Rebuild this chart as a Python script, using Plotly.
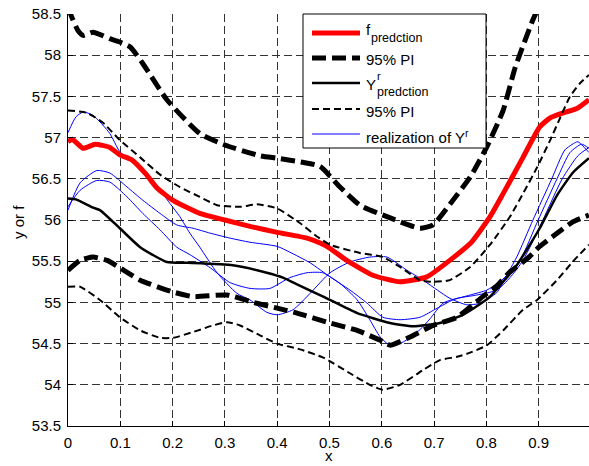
import plotly.graph_objects as go

# ---------------- data ----------------
x_f = [0, 0.008, 0.029, 0.052, 0.08, 0.099, 0.122, 0.15, 0.17, 0.2, 0.252, 0.3, 0.35, 0.4,
       0.457, 0.482, 0.5, 0.533, 0.583, 0.635, 0.686, 0.736, 0.77, 0.807, 0.832, 0.87,
       0.902, 0.922, 0.947, 0.975, 0.996]
y_f = [56.95, 56.98, 56.87, 56.92, 56.88, 56.79, 56.73, 56.55, 56.39, 56.24, 56.08, 56.0, 55.92, 55.85,
       55.78, 55.72, 55.66, 55.51, 55.33, 55.25, 55.31, 55.54, 55.72, 56.04, 56.32, 56.76,
       57.13, 57.24, 57.3, 57.36, 57.46]

x_f_up = [0, 0.008, 0.019, 0.029, 0.048, 0.08, 0.099, 0.119, 0.143, 0.189, 0.252, 0.3, 0.367,
          0.4, 0.449, 0.482, 0.52, 0.558, 0.61, 0.673, 0.698, 0.736, 0.769, 0.801, 0.832,
          0.855, 0.889, 0.912]
y_f_up = [58.58, 58.45, 58.3, 58.24, 58.28, 58.2, 58.16, 58.1, 57.9, 57.46, 57.05, 56.91, 56.78,
          56.75, 56.7, 56.65, 56.4, 56.18, 56.04, 55.9, 55.94, 56.24, 56.52, 56.89, 57.33,
          57.85, 58.43, 58.75]

x_f_lo = [0, 0.023, 0.048, 0.075, 0.099, 0.138, 0.199, 0.239, 0.304, 0.354, 0.4, 0.438, 0.501,
          0.553, 0.597, 0.616, 0.654, 0.698, 0.744, 0.793, 0.82, 0.845, 0.878, 0.902, 0.935,
          0.966, 0.996]
y_f_lo = [55.39, 55.51, 55.55, 55.51, 55.42, 55.27, 55.13, 55.07, 55.09, 55.0, 54.93, 54.87, 54.75,
          54.66, 54.54, 54.48, 54.58, 54.72, 54.82, 55.07, 55.2, 55.37, 55.53, 55.68, 55.84,
          55.98, 56.06]

x_y = [0, 0.015, 0.048, 0.061, 0.099, 0.138, 0.189, 0.228, 0.315, 0.38, 0.411, 0.444, 0.488,
       0.553, 0.616, 0.66, 0.711, 0.755, 0.788, 0.807, 0.832, 0.858, 0.883, 0.902, 0.935,
       0.966, 0.996]
y_y = [56.26, 56.25, 56.15, 56.12, 55.9, 55.67, 55.49, 55.48, 55.45, 55.36, 55.3, 55.2, 55.07,
       54.87, 54.75, 54.71, 54.75, 54.85, 54.98, 55.07, 55.25, 55.45, 55.7, 55.9, 56.3,
       56.58, 56.75]

x_y_up = [0, 0.036, 0.067, 0.099, 0.138, 0.176, 0.214, 0.252, 0.285, 0.329, 0.361, 0.4, 0.444,
          0.476, 0.501, 0.558, 0.602, 0.635, 0.673, 0.698, 0.73, 0.769, 0.807, 0.845, 0.87,
          0.897, 0.922, 0.941, 0.96, 0.979, 0.996]
y_y_up = [57.33, 57.3, 57.18, 56.97, 56.76, 56.55, 56.4, 56.28, 56.18, 56.16, 56.19, 56.14, 55.96,
          55.8, 55.7, 55.6, 55.55, 55.43, 55.27, 55.25, 55.27, 55.43, 55.7, 56.04, 56.32,
          56.64, 56.97, 57.24, 57.5, 57.66, 57.76]

x_y_lo = [0, 0.023, 0.061, 0.099, 0.138, 0.176, 0.201, 0.239, 0.277, 0.304, 0.329, 0.367, 0.4,
          0.444, 0.488, 0.539, 0.577, 0.602, 0.635, 0.679, 0.711, 0.744, 0.769, 0.801, 0.832,
          0.87, 0.897, 0.935, 0.966, 0.996]
y_y_lo = [55.19, 55.19, 55.03, 54.82, 54.66, 54.57, 54.57, 54.64, 54.72, 54.76, 54.72, 54.6, 54.5,
          54.43, 54.33, 54.14, 54.0, 53.94, 54.0, 54.18, 54.3, 54.34, 54.39, 54.48, 54.66,
          54.91, 55.03, 55.27, 55.5, 55.7]

x_r1 = [0, 0.015, 0.029, 0.048, 0.08, 0.099, 0.128, 0.157, 0.195, 0.214, 0.233, 0.252, 0.285,
        0.323, 0.348, 0.38, 0.4, 0.43, 0.463, 0.501, 0.539, 0.577, 0.61, 0.648, 0.679, 0.706,
        0.73, 0.763, 0.788, 0.82, 0.836, 0.858, 0.889, 0.925, 0.95, 0.97, 0.975, 0.996]
y_r1 = [57.06, 57.25, 57.31, 57.27, 57.05, 56.83, 56.68, 56.52, 56.2, 56.04, 55.84, 55.67, 55.36,
        55.11, 55.03, 54.88, 54.85, 54.91, 55.11, 55.36, 55.49, 55.55, 55.55, 55.39, 55.27, 55.15,
        55.05, 54.97, 54.99, 55.12, 55.3, 55.55, 56.0, 56.5, 56.85, 56.94, 56.95, 56.82]

x_r2 = [0, 0.023, 0.055, 0.08, 0.113, 0.143, 0.176, 0.208, 0.239, 0.272, 0.31, 0.348, 0.4,
        0.424, 0.463, 0.501, 0.539, 0.572, 0.602, 0.635, 0.673, 0.706, 0.736, 0.769, 0.801,
        0.826, 0.864, 0.899, 0.935, 0.96, 0.982, 0.996]
y_r2 = [56.12, 56.45, 56.6, 56.57, 56.4, 56.24, 56.08, 55.94, 55.9, 55.84, 55.78, 55.73, 55.68,
        55.61, 55.48, 55.31, 55.15, 54.99, 54.82, 54.79, 54.82, 54.93, 55.03, 55.09, 55.15,
        55.25, 55.51, 56.0, 56.5, 56.82, 56.92, 56.87]

x_r3 = [0, 0.023, 0.055, 0.08, 0.113, 0.143, 0.176, 0.208, 0.233, 0.272, 0.31, 0.348, 0.386,
        0.424, 0.457, 0.487, 0.52, 0.553, 0.577, 0.597, 0.616, 0.641, 0.673, 0.692, 0.717,
        0.744, 0.782, 0.82, 0.845, 0.87, 0.908, 0.945, 0.975, 0.996]
y_r3 = [56.16, 56.36, 56.48, 56.46, 56.28, 56.08, 55.88, 55.67, 55.58, 55.42, 55.24, 55.17, 55.17,
        55.3, 55.36, 55.36, 55.23, 55.03, 54.79, 54.58, 54.48, 54.52, 54.67, 54.8, 54.99,
        55.05, 55.09, 55.15, 55.3, 55.51, 56.0, 56.5, 56.78, 56.88]

x_ticks = [0, 0.1, 0.2, 0.3, 0.4, 0.5, 0.6, 0.7, 0.8, 0.9, 1.0]
y_ticks = [53.5, 54, 54.5, 55, 55.5, 56, 56.5, 57, 57.5, 58, 58.5]

# ---------------- styles ----------------
FONT = "Liberation Sans, Arial, Helvetica, sans-serif"
RED = dict(color="#FF0000", width=5)
THICK = dict(color="black", width=5, dash="14px,6px")
SOLID = dict(color="black", width=2.5)
THIN = dict(color="black", width=2, dash="7px,4px")
BLUE = dict(color="#0000FF", width=1)

W, H = 589, 466
ML, MR, MT, MB = 68, 0, 14, 40
PW, PH = W - ML - MR, H - MT - MB


def px(xp):
    return (xp - ML) / PW


def py(yp):
    return (H - MB - yp) / PH


fig = go.Figure()

for xx, yy in [(x_r1, y_r1), (x_r2, y_r2), (x_r3, y_r3)]:
    fig.add_trace(go.Scatter(x=xx, y=yy, mode="lines", showlegend=False, hoverinfo="skip",
                             line=dict(**BLUE, shape="spline", smoothing=0.6)))
fig.add_trace(go.Scatter(x=x_f, y=y_f, mode="lines", showlegend=False, hoverinfo="skip",
                         line=dict(**RED, shape="spline", smoothing=0.5)))
for xx, yy in [(x_f_up, y_f_up), (x_f_lo, y_f_lo)]:
    fig.add_trace(go.Scatter(x=xx, y=yy, mode="lines", showlegend=False, hoverinfo="skip",
                             line=dict(**THICK, shape="spline", smoothing=0.5)))
fig.add_trace(go.Scatter(x=x_y, y=y_y, mode="lines", showlegend=False, hoverinfo="skip",
                         line=dict(**SOLID, shape="spline", smoothing=0.5)))
for xx, yy in [(x_y_up, y_y_up), (x_y_lo, y_y_lo)]:
    fig.add_trace(go.Scatter(x=xx, y=yy, mode="lines", showlegend=False, hoverinfo="skip",
                             line=dict(**THIN, shape="spline", smoothing=0.5)))

# ---------------- legend (drawn by hand to match the MATLAB look) ----------------
shapes = [dict(type="rect", xref="paper", yref="paper", x0=px(303), x1=px(486),
               y0=py(148), y1=py(14), line=dict(color="black", width=1),
               fillcolor="white", layer="above")]
sample_y = [33, 58, 83, 109, 134]
sample_styles = [RED, THICK, SOLID, THIN, BLUE]
for yy, st in zip(sample_y, sample_styles):
    shapes.append(dict(type="line", xref="paper", yref="paper", x0=px(312), x1=px(360),
                       y0=py(yy), y1=py(yy), line=st, layer="above"))

annotations = []


def txt(text, xp, yp, size=15, **kw):
    annotations.append(dict(text=text, xref="paper", yref="paper", x=px(xp), y=py(yp),
                            xanchor="left", yanchor="middle", showarrow=False,
                            font=dict(family=FONT, size=size, color="black"), **kw))


txt("f", 364, 30)
txt("predction", 369, 38, size=12.5)
txt("95% PI", 364, 60)
txt("Y", 364, 84)
txt("r", 375, 76, size=11)
txt("predction", 375, 92, size=12.5)
txt("95% PI", 364, 111)
txt("realization of Y<sup>r</sup>", 364, 136)

# axis titles
annotations.append(dict(text="x", xref="paper", yref="paper", x=px(329), y=py(455),
                        xanchor="center", yanchor="middle", showarrow=False,
                        font=dict(family=FONT, size=15, color="black")))
annotations.append(dict(text="y or f", xref="paper", yref="paper", x=px(18), y=py(222),
                        xanchor="center", yanchor="middle", showarrow=False, textangle=-90,
                        font=dict(family=FONT, size=15, color="black")))

fig.update_layout(
    width=W, height=H,
    margin=dict(l=ML, r=MR, t=MT, b=MB, autoexpand=False),
    paper_bgcolor="white", plot_bgcolor="white",
    font=dict(family=FONT, size=15, color="black"),
    showlegend=False, hovermode=False,
    shapes=shapes, annotations=annotations,
)
fig.update_xaxes(
    range=[0, 521 / 523], tickvals=x_ticks, ticktext=[f"{v:g}" for v in x_ticks],
    showgrid=True, gridcolor="#333333", griddash="8px,4px", gridwidth=1,
    showline=True, linecolor="black", linewidth=1, automargin=False,
    ticks="inside", ticklen=5, tickcolor="black", zeroline=False, ticklabelstandoff=3,
)
fig.update_yaxes(
    range=[53.5, 58.5], tickvals=y_ticks, ticktext=[f"{v:g}" for v in y_ticks],
    showgrid=True, gridcolor="#333333", griddash="8px,4px", gridwidth=1,
    showline=True, linecolor="black", linewidth=1, automargin=False,
    ticks="inside", ticklen=5, tickcolor="black", zeroline=False, ticklabelstandoff=3,
)

fig.write_html("out.html", config={"displayModeBar": False, "staticPlot": True},
               post_script="document.body.style.margin='0px';document.body.style.padding='0px';"
                           "document.body.style.overflow='hidden';")
